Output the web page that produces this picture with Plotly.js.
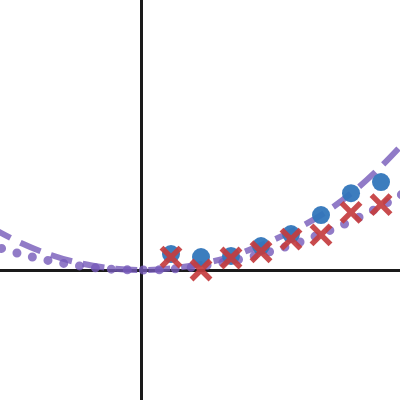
<!DOCTYPE html>
<html>
<head>
<meta charset="utf-8">
<script src="https://cdn.plot.ly/plotly-3.0.1.min.js"></script>
<style>html,body{margin:0;padding:0;background:#fff}#chart{width:400px;height:400px}</style>
</head>
<body>
<div id="chart"></div>
<script>
// observed points
var xObs = [1, 2, 3, 4, 5, 6, 7, 8];
var yBlue = [0.53, 0.43, 0.47, 0.8, 1.2, 1.83, 2.56, 2.93];
var yRed = [0.43, 0.0, 0.4, 0.61, 1.03, 1.17, 1.92, 2.18];
// curves
var xCurve = [-5, -4, -3, -2, -1, 0, 1, 2, 3, 4, 5, 6, 7, 8, 9];
var yDashed = [1.42, 0.9, 0.5, 0.22, 0.06, 0, 0.05, 0.2, 0.45, 0.83, 1.28, 1.83, 2.55, 3.45, 4.5];
var yDotted = [0.83, 0.53, 0.3, 0.13, 0.03, 0, 0.03, 0.13, 0.3, 0.53, 0.83, 1.2, 1.63, 2.13, 2.7];

var purple = 'rgba(118,90,185,0.8)';
var traces = [
  {x: xCurve, y: yDotted, mode: 'lines', line: {color: purple, width: 9, dash: '0px,16px', shape: 'spline'}, hoverinfo: 'skip'},
  {x: xCurve, y: yDashed, mode: 'lines', line: {color: purple, width: 6, dash: '22px,11px', shape: 'spline'}, hoverinfo: 'skip'},
  {x: xObs, y: yBlue, mode: 'markers', marker: {symbol: 'circle', size: 18, color: 'rgba(50,118,187,0.95)'}},
  {x: xObs, y: yRed, mode: 'markers', marker: {symbol: 'x-thin', size: 19, line: {width: 5.5, color: 'rgba(196,60,62,0.92)'}}}
];
var layout = {
  width: 400, height: 400,
  margin: {l: 0, r: 0, t: 0, b: 0},
  paper_bgcolor: '#fff', plot_bgcolor: '#fff',
  showlegend: false,
  xaxis: {range: [-4.7, 8.633], showgrid: false, showticklabels: false, ticks: '', zeroline: true, zerolinecolor: '#1a1a1a', zerolinewidth: 3, showline: false},
  yaxis: {range: [-4.333, 9], showgrid: false, showticklabels: false, ticks: '', zeroline: true, zerolinecolor: '#1a1a1a', zerolinewidth: 3, showline: false}
};
Plotly.newPlot('chart', traces, layout, {staticPlot: true}).then(function () {
  var paths = document.querySelectorAll('.scatterlayer .trace');
  if (paths[0]) {
    paths[0].querySelectorAll('path.js-line').forEach(function (p) {
      p.style.strokeLinecap = 'round';
      p.style.strokeDashoffset = '5px';
    });
  }
});
</script>
</body>
</html>
